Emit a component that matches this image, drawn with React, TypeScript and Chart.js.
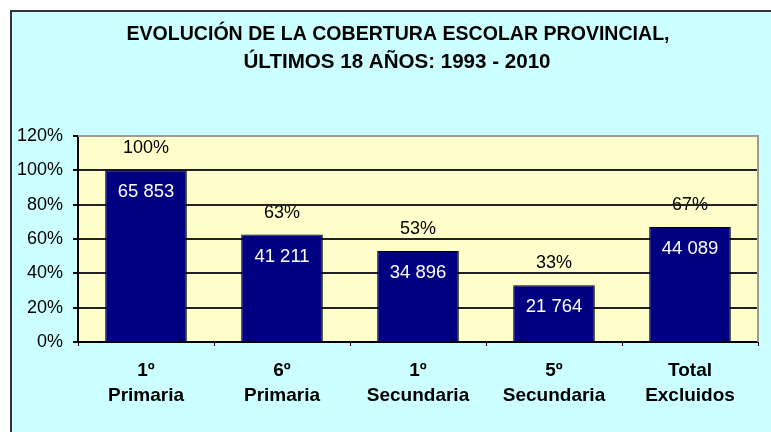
import React, { useEffect, useRef } from "react";
import { Chart, registerables } from "chart.js";

Chart.register(...registerables);

const titleLines = ["EVOLUCIÓN DE LA COBERTURA ESCOLAR PROVINCIAL,", "ÚLTIMOS 18 AÑOS: 1993 - 2010"];
const categories = [
  ["1º", "Primaria"],
  ["6º", "Primaria"],
  ["1º", "Secundaria"],
  ["5º", "Secundaria"],
  ["Total", "Excluidos"],
];
const percentages = [100, 62.6, 53.0, 33.0, 67.0];
const students = [65853, 41211, 34896, 21764, 44089];
const yTicks = [0, 20, 40, 60, 80, 100, 120];

const FONT = '"Liberation Sans", Arial, sans-serif';

function fmtStudents(n: number) {
  return String(n).replace(/\B(?=(\d{3})+(?!\d))/g, " ");
}

const decorPlugin = {
  id: "decor",
  beforeDraw(chart: any) {
    const ctx = chart.ctx;
    const { left, right, top, bottom } = chart.chartArea;
    ctx.save();
    ctx.fillStyle = "#ffffff";
    ctx.fillRect(0, 0, chart.width, chart.height);
    ctx.fillStyle = "#CCFFFF";
    ctx.fillRect(11, 11, chart.width + 20, chart.height + 20);
    ctx.strokeStyle = "#333333";
    ctx.lineWidth = 2;
    ctx.strokeRect(11, 11, chart.width + 20, chart.height + 20);
    // plot area
    ctx.fillStyle = "#FFFFCC";
    ctx.fillRect(left, top, right - left, bottom - top);
    // title
    ctx.fillStyle = "#000000";
    ctx.textAlign = "center";
    ctx.textBaseline = "middle";
    ctx.font = `bold 21px ${FONT}`;
    ctx.fillText(titleLines[0], 398, 34, 543);
    ctx.fillText(titleLines[1], 397, 62, 307);
    // percent labels (under gridlines, as in reference)
    const meta = chart.getDatasetMeta(0);
    ctx.font = `18px ${FONT}`;
    meta.data.forEach((bar: any, i: number) => {
      ctx.fillText(Math.round(percentages[i]) + "%", bar.x, bar.y - 22);
    });
    ctx.restore();
  },
  afterDatasetsDraw(chart: any) {
    const ctx = chart.ctx;
    const meta = chart.getDatasetMeta(0);
    ctx.save();
    ctx.fillStyle = "#ffffff";
    ctx.textAlign = "center";
    ctx.textBaseline = "middle";
    ctx.font = `18.5px ${FONT}`;
    meta.data.forEach((bar: any, i: number) => {
      ctx.fillText(fmtStudents(students[i]), bar.x, bar.y + 22);
    });
    // plot border right/top (gray)
    const { right, top, bottom, left } = chart.chartArea;
    ctx.strokeStyle = "#999999";
    ctx.lineWidth = 2;
    ctx.beginPath();
    ctx.moveTo(left, top);
    ctx.lineTo(right, top);
    ctx.lineTo(right, bottom);
    ctx.stroke();
    ctx.restore();
  },
};

export default function App() {
  const ref = useRef<HTMLCanvasElement | null>(null);
  useEffect(() => {
    if (!ref.current) return;
    const chart = new Chart(ref.current, {
      type: "bar",
      data: {
        labels: categories,
        datasets: [
          {
            data: percentages,
            backgroundColor: "#000080",
            borderColor: "#000000",
            borderWidth: 1,
            barPercentage: 0.6,
            categoryPercentage: 1,
          },
        ],
      },
      options: {
        animation: false,
        responsive: false,
        devicePixelRatio: 1,
        layout: { padding: { top: 136, right: 13, bottom: 0, left: 0 } },
        plugins: {
          legend: { display: false },
          tooltip: { enabled: false },
          title: { display: false },
        },
        scales: {
          x: {
            offset: true,
            grid: {
              display: true,
              drawOnChartArea: false,
              drawTicks: true,
              tickLength: 4,
              color: "#000000",
              lineWidth: 1,
              offset: true,
            },
            border: { display: true, color: "#000000", width: 2 },
            ticks: {
              color: "#000000",
              font: { family: FONT, size: 19, weight: "bold", lineHeight: 1.33 },
              padding: 12,
              maxRotation: 0,
              autoSkip: false,
            },
            afterFit(scale: any) {
              scale.height = 90;
            },
          },
          y: {
            min: 0,
            max: 120,
            afterBuildTicks(scale: any) {
              scale.ticks = yTicks.map((v) => ({ value: v }));
            },
            grid: {
              color: (c: any) => (c.tick && c.tick.value === 120 ? "#999999" : "#222222"),
              lineWidth: 2,
              tickColor: "#000000",
              tickLength: 5,
            },
            border: { display: true, color: "#000000", width: 2 },
            ticks: {
              color: "#000000",
              font: { family: FONT, size: 18 },
              padding: 10,
              callback: (v: any) => v + "%",
            },
            afterFit(scale: any) {
              scale.width = 78;
            },
          },
        },
      },
      plugins: [decorPlugin],
    });
    return () => chart.destroy();
  }, []);
  return (
    <div style={{ position: "absolute", left: 0, top: 0, width: 771, height: 432 }}>
      <canvas ref={ref} width={771} height={432} style={{ display: "block" }} />
    </div>
  );
}
